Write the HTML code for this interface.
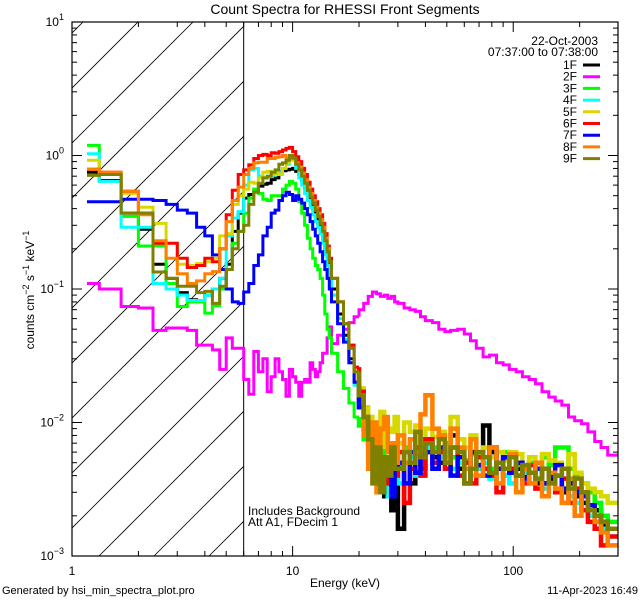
<!DOCTYPE html>
<html><head><meta charset="utf-8"><style>
html,body{margin:0;padding:0;background:#fff;}
svg{display:block;font-family:"Liberation Sans",sans-serif;}
</style></head><body>
<svg id="chart" width="640" height="600" viewBox="0 0 640 600">
<rect width="640" height="600" fill="#fff"/>
<text x="345" y="14" font-size="14" text-anchor="middle">Count Spectra for RHESSI Front Segments</text>
<g id="hatch"></g>
<g id="series"></g>
<g id="axes"></g>
<g id="legend"></g>
<text x="345" y="587" font-size="12" text-anchor="middle">Energy (keV)</text>
<text transform="translate(34,290) rotate(-90)" font-size="12" text-anchor="middle">counts cm<tspan dy="-5" font-size="9">−2</tspan><tspan dy="5"> s</tspan><tspan dy="-5" font-size="9">−1</tspan><tspan dy="5"> keV</tspan><tspan dy="-5" font-size="9">−1</tspan></text>
<text x="248" y="515" font-size="12">Includes Background</text>
<text x="248" y="526" font-size="12">Att A1, FDecim 1</text>
<text x="2" y="594" font-size="11">Generated by hsi_min_spectra_plot.pro</text>
<text x="638" y="594" font-size="11" text-anchor="end">11-Apr-2023 16:49</text>
</svg>
<script>
const edges=[1.17,1.33,1.67,2.0,2.33,2.67,3.0,3.33,3.67,4.0,4.33,4.67,5.0,5.33,5.67,6.0,
6.33,6.67,7.0,7.33,7.67,8.0,8.33,8.67,9.0,9.33,9.67,10.0,10.33,10.67,11.0,11.33,11.67,12.0,12.33,12.67,13.0,13.33,13.67,14.0,14.33,14.67,15.0,
16,17,18,19,20,21,22,23,24,25,26,27,28,29,30,32,34,36,38,40,43,46,49,52,56,60,64,68,73,78,84,90,96,103,110,118,126,135,145,155,166,178,190,204,218,234,250,268,298];
const segNames=["1F","2F","3F","4F","5F","6F","7F","8F","9F"];
const segColors=["#000000","#ff00ff","#00ff00","#00ffff","#d8d800","#ff0000","#0000ff","#ff8000","#808000"];
const s1F=[0.75,0.65,0.37,0.28,0.153,0.12,0.094,0.083,0.082,0.09,0.1,0.12,0.153,0.27,0.37,
0.48,0.51,0.55,0.59,0.61,0.62,0.66,0.68,0.73,0.77,0.78,0.79,0.8,0.76,0.72,0.65,0.57,0.5,0.45,0.4,0.35,0.31,0.28,0.24,0.2,0.17,0.14,
0.1,0.065,0.045,0.03,0.02,0.013,0.009,0.007,0.0055,0.0045,0.0065,0.0028,0.005,0.0022,0.004,
0.0016,0.005,0.0035,0.006,0.0045,
0.007,0.0055,0.005,0.0065,0.008,0.0045,
0.0035,0.006,0.0045,0.0095,0.006,0.005,0.004,0.0055,
0.0045,0.004,0.005,0.0035,0.0045,0.0038,0.004,0.003,0.0035,0.0028,0.0025,0.002,0.0022,0.0017,0.0016];
const s2F=[0.11,0.1,0.074,0.072,0.049,0.051,0.051,0.049,0.038,0.038,0.035,0.025,0.043,0.036,0.036,
0.021,0.0163,0.034,0.024,0.03,0.017,0.022,0.03,0.024,0.021,0.0157,0.025,0.022,0.02,0.0157,0.02,0.021,0.02,0.028,0.025,0.022,0.024,0.028,0.033,0.033,0.043,0.052,
0.039,0.045,0.05,0.056,0.062,0.07,0.078,0.088,0.095,0.092,0.088,0.09,0.085,0.088,0.08,
0.078,0.072,0.07,0.068,0.062,
0.058,0.056,0.05,0.048,0.049,0.05,
0.046,0.041,0.036,0.031,0.032,0.028,0.027,0.025,
0.024,0.022,0.021,0.0195,0.017,0.0155,0.0145,0.0135,0.011,0.0103,0.0098,0.0085,0.0072,0.0065,0.0057];
const s3F=[1.19,0.72,0.35,0.21,0.21,0.11,0.074,0.08,0.08,0.066,0.075,0.1,0.14,0.22,0.27,
0.37,0.48,0.56,0.52,0.47,0.46,0.5,0.5,0.5,0.56,0.6,0.64,0.62,0.56,0.45,0.37,0.3,0.24,0.2,0.17,0.15,0.14,0.12,0.09,0.065,0.05,0.043,
0.033,0.024,0.018,0.014,0.011,0.0095,0.0075,0.0065,0.0055,0.0045,0.006,0.0035,0.005,0.0042,0.0055,
0.0048,0.0065,0.005,0.0058,0.0068,
0.0075,0.0065,0.006,0.007,0.0055,0.006,
0.0052,0.0058,0.0048,0.0055,0.0045,0.005,0.006,0.0045,
0.0048,0.0042,0.005,0.0045,0.0055,0.0048,0.0065,0.0065,0.0045,0.004,0.0035,0.003,0.0025,0.002,0.0018];
const s4F=[1.03,0.64,0.29,0.29,0.11,0.1,0.09,0.082,0.082,0.09,0.1,0.12,0.25,0.34,0.38,
0.6,0.78,0.8,0.7,0.68,0.7,0.71,0.73,0.76,0.8,0.86,0.95,0.93,0.8,0.68,0.6,0.52,0.46,0.41,0.36,0.32,0.29,0.26,0.22,0.18,0.15,0.12,
0.09,0.06,0.042,0.028,0.019,0.013,0.009,0.0065,0.005,0.0055,0.0035,0.0045,0.0028,0.0045,0.004,
0.0035,0.005,0.0055,0.004,0.006,
0.0065,0.005,0.0055,0.006,0.0045,0.005,
0.005,0.004,0.0045,0.005,0.0038,0.0045,0.004,0.0035,
0.004,0.0042,0.0035,0.0038,0.0032,0.0035,0.003,0.0032,0.0028,0.0025,0.0022,0.002,0.0018,0.0016,0.0014];
const s5F=[0.92,0.72,0.52,0.41,0.31,0.22,0.153,0.15,0.155,0.16,0.17,0.25,0.26,0.43,0.5,
0.56,0.63,0.62,0.68,0.75,0.76,0.72,0.74,0.72,0.8,0.88,0.92,0.95,0.9,0.8,0.7,0.62,0.55,0.49,0.44,0.39,0.35,0.31,0.27,0.23,0.19,0.16,
0.12,0.08,0.055,0.038,0.026,0.018,0.013,0.011,0.01,0.0075,0.012,0.0065,0.009,0.0085,0.011,
0.007,0.01,0.0085,0.0095,0.0075,
0.009,0.0078,0.0085,0.0065,0.011,0.0075,
0.0065,0.008,0.0058,0.0065,0.0055,0.006,0.0052,0.006,
0.0058,0.0048,0.0055,0.0045,0.0058,0.0052,0.005,0.0045,0.0058,0.0042,0.0035,0.0032,0.003,0.0028,0.0025];
const s6F=[0.79,0.75,0.54,0.37,0.22,0.22,0.17,0.145,0.15,0.17,0.16,0.2,0.36,0.55,0.72,
0.78,0.85,0.95,1.0,1.02,1.0,1.05,1.04,1.07,1.1,1.13,1.15,1.07,0.98,0.9,0.8,0.72,0.63,0.56,0.5,0.45,0.4,0.36,0.31,0.26,0.21,0.17,
0.12,0.08,0.055,0.038,0.026,0.017,0.011,0.008,0.005,0.0065,0.003,0.005,0.0035,0.007,0.004,
0.006,0.0025,0.0045,0.0065,0.004,
0.0075,0.005,0.006,0.0045,0.0065,0.004,
0.005,0.0035,0.0055,0.0045,0.004,0.003,0.0055,0.0045,
0.004,0.0035,0.0048,0.0032,0.0035,0.004,0.003,0.0038,0.0025,0.0032,0.0022,0.0018,0.0016,0.0012,0.0014];
const s7F=[0.45,0.45,0.47,0.47,0.46,0.43,0.39,0.37,0.29,0.25,0.18,0.14,0.1,0.08,0.078,
0.095,0.11,0.15,0.18,0.25,0.29,0.37,0.39,0.46,0.5,0.53,0.51,0.46,0.5,0.47,0.44,0.4,0.36,0.32,0.28,0.25,0.22,0.19,0.16,0.14,0.12,0.1,
0.08,0.055,0.04,0.028,0.02,0.013,0.009,0.007,0.006,0.0045,0.0035,0.0055,0.004,0.0028,0.0045,
0.005,0.0035,0.006,0.0042,0.0055,
0.006,0.0045,0.0065,0.005,0.004,0.0055,
0.0045,0.006,0.0048,0.004,0.0065,0.0045,0.0055,0.0042,
0.005,0.0038,0.0042,0.0045,0.0035,0.004,0.0048,0.0032,0.0035,0.003,0.0028,0.0024,0.002,0.0018,0.0016];
const s8F=[0.79,0.75,0.54,0.36,0.23,0.17,0.13,0.11,0.115,0.13,0.135,0.2,0.32,0.46,0.58,
0.72,0.8,0.88,0.89,0.89,0.95,0.95,0.97,0.98,1.0,0.96,0.97,0.95,0.88,0.82,0.74,0.66,0.58,0.52,0.46,0.41,0.37,0.33,0.29,0.24,0.2,0.16,
0.12,0.08,0.055,0.036,0.024,0.016,0.008,0.0045,0.01,0.003,0.009,0.011,0.006,0.007,0.005,
0.008,0.005,0.0075,0.006,0.0115,
0.016,0.009,0.008,0.0055,0.009,0.0065,
0.0045,0.0075,0.004,0.0055,0.0065,0.0035,0.0045,0.0058,
0.003,0.0045,0.0035,0.005,0.0028,0.0042,0.0032,0.0025,0.0038,0.002,0.003,0.0022,0.0018,0.0015,0.0012];
const s9F=[0.71,0.72,0.37,0.37,0.134,0.12,0.105,0.105,0.094,0.096,0.078,0.105,0.14,0.2,0.27,
0.3,0.43,0.53,0.62,0.68,0.7,0.75,0.78,0.86,0.88,0.92,1.0,0.96,0.86,0.78,0.7,0.62,0.55,0.49,0.44,0.39,0.35,0.31,0.27,0.23,0.19,0.16,
0.12,0.08,0.055,0.036,0.024,0.016,0.011,0.0075,0.0035,0.0065,0.003,0.0055,0.004,0.0065,0.0045,
0.0045,0.006,0.005,0.0085,0.0055,
0.007,0.006,0.0075,0.005,0.0065,0.006,
0.0035,0.0045,0.006,0.0055,0.0042,0.005,0.0045,0.0055,
0.004,0.0048,0.0042,0.0038,0.0045,0.0035,0.004,0.0045,0.0032,0.0038,0.003,0.0022,0.002,0.0018,0.0016];
const seriesValues=[s1F,s2F,s3F,s4F,s5F,s6F,s7F,s8F,s9F];
const xTickLabels=["1","10","100"];
const yTickExps=[-3,-2,-1,0,1];
const attenEdge=6.0;
const tailStart=20;

const NS="http://www.w3.org/2000/svg";
const L=72,R=618,T=22,B=556;
const xmin=0,xmax=Math.log10(298.5),ymin=-3,ymax=1;
const xs=e=>L+(Math.log10(e)-xmin)/(xmax-xmin)*(R-L);
const ys=v=>B-(Math.log10(v)-ymin)/(ymax-ymin)*(B-T);
function mk(tag,attrs,parent){const el=document.createElementNS(NS,tag);for(const k in attrs)el.setAttribute(k,attrs[k]);parent.appendChild(el);return el;}

const hatch=document.getElementById('hatch');
const xa=xs(attenEdge);
const defs=mk('defs',{},hatch);
const cp=mk('clipPath',{id:'hclip'},defs);
mk('rect',{x:L,y:T,width:xa-L,height:B-T},cp);
const hg=mk('g',{'clip-path':'url(#hclip)'},hatch);
for(let c=99-55*12;c<700;c+=55){
  const ln=mk('line',{x1:c,y1:B,x2:c+600,y2:B-600,stroke:'#000','stroke-width':0.8},hg);
  
  
}
const vl=mk('line',{x1:xa,y1:T,x2:xa,y2:B,stroke:'#000','stroke-width':1},hatch);



const sg=document.getElementById('series');
const cp2=mk('clipPath',{id:'pclip'},defs);
mk('rect',{x:L,y:T,width:R-L,height:B-T},cp2);
sg.setAttribute('clip-path','url(#pclip)');
seriesValues.forEach((vals,si)=>{
  let d1='',d2='';
  for(let i=0;i<vals.length;i++){
    const x0=xs(edges[i]).toFixed(1),x1=xs(edges[i+1]).toFixed(1),y=ys(vals[i]).toFixed(1);
    if(edges[i]<tailStart){
      d1+=(i===0?'M':'L')+x0+','+y+'L'+x1+','+y;
    } else {
      if(d2===''){ d2='M'+x0+','+ys(vals[i-1]).toFixed(1); }
      d2+='L'+x0+','+y+'L'+x1+','+y;
    }
  }
  const g=mk('g',{},sg);
  
  
  const p=mk('path',{d:d1,fill:'none',stroke:segColors[si],'stroke-width':3},g);
  
  
  const p2=mk('path',{d:d2,fill:'none',stroke:segColors[si],'stroke-width':si===1?3:4.5},g);
  
  
});

const ax=document.getElementById('axes');
const frame=mk('rect',{x:L,y:T,width:R-L,height:B-T,fill:'none',stroke:'#000','stroke-width':1.2},ax);


for(let dec=0;dec<3;dec++){
  for(let m=1;m<10;m++){
    const e=m*Math.pow(10,dec); if(e>298.5) break;
    const x=xs(e),len=m===1?10:5;
    mk('line',{x1:x,y1:B,x2:x,y2:B-len,stroke:'#000'},ax);
    mk('line',{x1:x,y1:T,x2:x,y2:T+len,stroke:'#000'},ax);
  }
}
xTickLabels.forEach((lab,i)=>{
  const t=mk('text',{x:xs(Math.pow(10,i)),y:575,'font-size':12,'text-anchor':'middle'},ax);
  t.textContent=lab;
  
  
});
for(let dec=-3;dec<1;dec++){
  for(let m=1;m<10;m++){
    const y=ys(m*Math.pow(10,dec)),len=m===1?10:5;
    mk('line',{x1:L,y1:y,x2:L+len,y2:y,stroke:'#000'},ax);
    mk('line',{x1:R,y1:y,x2:R-len,y2:y,stroke:'#000'},ax);
  }
}
yTickExps.forEach(ex=>{
  const t=mk('text',{x:64,y:ys(Math.pow(10,ex))+4,'font-size':12,'text-anchor':'end'},ax);
  t.textContent='10';
  const sup=mk('tspan',{dy:-6,'font-size':9},t);
  sup.textContent=ex<0?'−'+(-ex):String(ex);
  
  
});

const lg=document.getElementById('legend');
const d1=mk('text',{x:598,y:45,'font-size':12,'text-anchor':'end'},lg);
d1.textContent='22-Oct-2003';


const d2=mk('text',{x:598,y:56,'font-size':12,'text-anchor':'end'},lg);
d2.textContent='07:37:00 to 07:38:00';


segNames.forEach((n,i)=>{
  const y=65+i*11.7;
  const g=mk('g',{},lg);
  
  
  const t=mk('text',{x:577,y:y+4,'font-size':12,'text-anchor':'end'},g);
  t.textContent=n;
  mk('line',{x1:583,y1:y,x2:600,y2:y,stroke:segColors[i],'stroke-width':3},g);
});
</script>
</body></html>
